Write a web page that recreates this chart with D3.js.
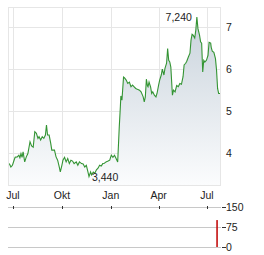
<!DOCTYPE html>
<html><head><meta charset="utf-8">
<script src="https://cdn.jsdelivr.net/npm/d3@7"></script>
<style>
html,body{margin:0;padding:0;background:#fff;}
svg{display:block;font-family:"Liberation Sans",Arial,sans-serif;}
</style></head>
<body><svg id="c" width="264" height="255"></svg>
<script>
const dates = ["2024-06-24","2024-06-27","2024-06-30","2024-07-03","2024-07-05","2024-07-09","2024-07-12","2024-07-14","2024-07-16","2024-07-18","2024-07-20","2024-07-23","2024-07-26","2024-07-29","2024-08-02","2024-08-05","2024-08-08","2024-08-11","2024-08-14","2024-08-17","2024-08-19","2024-08-22","2024-08-25","2024-08-28","2024-08-31","2024-09-02","2024-09-04","2024-09-07","2024-09-10","2024-09-12","2024-09-17","2024-09-20","2024-09-23","2024-09-26","2024-09-28","2024-10-01","2024-10-03","2024-10-06","2024-10-09","2024-10-12","2024-10-15","2024-10-18","2024-10-21","2024-10-24","2024-10-28","2024-10-31","2024-11-03","2024-11-07","2024-11-10","2024-11-13","2024-11-16","2024-11-19","2024-11-21","2024-11-24","2024-11-26","2024-11-29","2024-12-02","2024-12-05","2024-12-08","2024-12-11","2024-12-14","2024-12-17","2024-12-20","2024-12-23","2024-12-27","2024-12-30","2025-01-02","2025-01-05","2025-01-08","2025-01-11","2025-01-14","2025-01-17","2025-01-19","2025-01-20","2025-01-22","2025-01-25","2025-01-27","2025-01-30","2025-02-02","2025-02-05","2025-02-08","2025-02-11","2025-02-14","2025-02-17","2025-02-20","2025-02-24","2025-02-27","2025-03-03","2025-03-05","2025-03-07","2025-03-09","2025-03-11","2025-03-12","2025-03-14","2025-03-17","2025-03-19","2025-03-21","2025-03-24","2025-03-27","2025-03-29","2025-04-01","2025-04-03","2025-04-06","2025-04-08","2025-04-11","2025-04-13","2025-04-16","2025-04-18","2025-04-20","2025-04-22","2025-04-24","2025-04-27","2025-04-29","2025-05-02","2025-05-05","2025-05-08","2025-05-11","2025-05-14","2025-05-17","2025-05-19","2025-05-22","2025-05-24","2025-05-27","2025-05-30","2025-06-01","2025-06-03","2025-06-05","2025-06-08","2025-06-10","2025-06-12","2025-06-14","2025-06-17","2025-06-19","2025-06-21","2025-06-23","2025-06-25","2025-06-27","2025-06-30","2025-07-03","2025-07-05","2025-07-08","2025-07-09","2025-07-11","2025-07-14","2025-07-17","2025-07-19","2025-07-21","2025-07-23","2025-07-27"];
const prices = [3.75,3.67,3.71,3.83,3.90,3.91,3.95,3.89,3.99,3.90,4.03,3.79,3.91,3.99,4.27,4.17,4.14,4.51,4.47,4.35,4.39,4.31,4.39,4.35,4.43,4.67,4.43,4.43,4.23,4.07,4.07,3.91,3.83,3.67,3.55,3.71,3.83,3.90,3.79,3.87,3.75,3.83,3.81,3.75,3.79,3.71,3.79,3.75,3.74,3.67,3.71,3.55,3.44,3.55,3.48,3.55,3.52,3.60,3.64,3.71,3.69,3.75,3.76,3.79,3.81,3.83,3.95,3.90,3.95,3.87,3.79,4.63,5.10,5.36,5.26,5.81,5.79,5.74,5.66,5.69,5.58,5.62,5.58,5.54,5.52,5.50,5.46,5.34,5.22,5.34,5.76,5.60,5.58,5.69,5.57,5.42,5.46,5.38,5.34,5.42,5.62,5.74,5.86,6.00,5.86,6.02,6.14,6.49,6.21,6.17,6.05,5.38,5.50,5.46,5.61,5.58,5.66,5.64,5.82,6.10,6.14,6.19,6.29,6.38,6.69,6.83,6.81,6.74,6.93,7.24,6.97,6.81,6.65,6.62,5.93,6.21,6.17,6.21,6.33,6.64,6.62,6.52,6.43,6.40,6.25,5.98,5.54,5.42,5.42];
const priceTicks = [4,5,6,7];
const monthTicks = ["2024-07-01","2024-10-01","2025-01-01","2025-04-01","2025-07-01"];
const monthLabels = ["Jul","Okt","Jan","Apr","Jul"];
const volDates = ["2025-07-20"];
const volValues = [101];
const volTicks = [0,75,150];
const maxLabel = "7,240";
const minLabel = "3,440";

const parse = d3.timeParse("%Y-%m-%d");
const data = dates.map((d,i)=>({date:parse(d), v:prices[i]}));
const svg = d3.select("#c");
const L=8, R=221, T=7, B=185;
const FS = 10.5;
const x = d3.scaleTime().domain([new Date(2024,5,21,14), new Date(2025,6,27,10)]).range([L,R]);
const y = d3.scaleLinear().domain([3.24,7.48]).range([B,T]);

const defs = svg.append("defs");
const g = defs.append("linearGradient").attr("id","fillg").attr("x1",0).attr("y1",0).attr("x2",0).attr("y2",1);
g.append("stop").attr("offset","0%").attr("stop-color","#c9d3dc");
g.append("stop").attr("offset","100%").attr("stop-color","#fbfcfd");

const grid = "#e6e6e6";
svg.append("g").selectAll("line").data(priceTicks).join("line")
  .attr("x1",L).attr("x2",R).attr("y1",d=>Math.round(y(d))+0.5).attr("y2",d=>Math.round(y(d))+0.5)
  .attr("stroke",grid);
svg.append("g").selectAll("line").data(monthTicks).join("line")
  .attr("x1",d=>Math.round(x(parse(d)))+0.5).attr("x2",d=>Math.round(x(parse(d)))+0.5).attr("y1",T).attr("y2",B)
  .attr("stroke",grid);

const area = d3.area().x(d=>x(d.date)).y0(B).y1(d=>y(d.v));
svg.append("path").datum(data).attr("d",area).attr("fill","url(#fillg)");
const line = d3.line().x(d=>x(d.date)).y(d=>y(d.v));
svg.append("path").datum(data).attr("d",line).attr("fill","none").attr("stroke","#339433").attr("stroke-width",1.1);

svg.append("rect").attr("x",L+0.5).attr("y",T+0.5).attr("width",R-L-1).attr("height",B-T).attr("fill","none").attr("stroke",grid);

svg.append("g").selectAll("text").data(priceTicks).join("text")
  .attr("x",226).attr("y",d=>y(d)+4).attr("font-size",FS).attr("fill","#222").text(d=>d);

svg.append("g").selectAll("text").data(monthTicks).join("text")
  .attr("x",d=>x(parse(d))).attr("y",199).attr("text-anchor","middle").attr("font-size",FS).attr("fill","#222")
  .text((d,i)=>monthLabels[i]);

const maxD = data.reduce((a,b)=>b.v>a.v?b:a);
const minD = data.reduce((a,b)=>b.v<a.v?b:a);
svg.append("text").attr("x",x(maxD.date)-5).attr("y",y(maxD.v)+4).attr("text-anchor","end").attr("font-size",FS).attr("fill","#222").text(maxLabel);
svg.append("text").attr("x",x(minD.date)+3).attr("y",y(minD.v)+4).attr("text-anchor","start").attr("font-size",FS).attr("fill","#222").text(minLabel);

const vy = d3.scaleLinear().domain([0,150]).range([247,207]);
svg.append("g").selectAll("line").data(volTicks).join("line")
  .attr("x1",L).attr("x2",R).attr("y1",d=>Math.round(vy(d))+0.5).attr("y2",d=>Math.round(vy(d))+0.5)
  .attr("stroke","#c8c8c8");
svg.append("g").selectAll("line").data(monthTicks).join("line")
  .attr("x1",d=>Math.round(x(parse(d)))+0.5).attr("x2",d=>Math.round(x(parse(d)))+0.5)
  .attr("y1",vy(150)-1).attr("y2",vy(150)+2).attr("stroke","#333");
svg.append("g").selectAll("line").data(volTicks).join("line")
  .attr("x1",R+1).attr("x2",R+5).attr("y1",d=>Math.round(vy(d))+0.5).attr("y2",d=>Math.round(vy(d))+0.5)
  .attr("stroke","#333");
svg.append("g").selectAll("text").data(volTicks).join("text")
  .attr("x",R+5).attr("y",d=>vy(d)+4).attr("font-size",FS).attr("fill","#222").text(d=>d);
svg.append("g").selectAll("rect").data(volDates).join("rect")
  .attr("x",d=>x(parse(d))-0.75).attr("width",1.5)
  .attr("y",(d,i)=>vy(volValues[i])).attr("height",(d,i)=>vy(0)-vy(volValues[i]))
  .attr("fill","#c00000");
</script></body></html>
